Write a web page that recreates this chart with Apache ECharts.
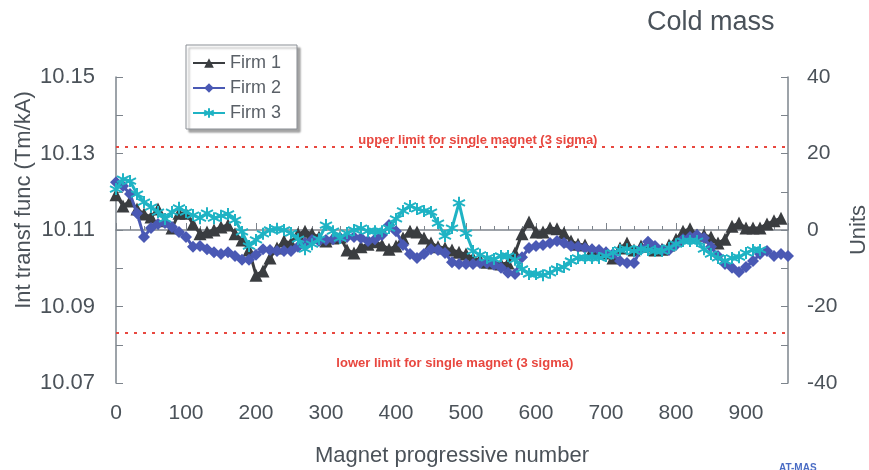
<!DOCTYPE html>
<html>
<head>
<meta charset="utf-8">
<script src="https://cdn.jsdelivr.net/npm/echarts@6/dist/echarts.min.js"></script>
<style>
  html, body { margin: 0; padding: 0; background: #ffffff; }
  #chart { width: 869px; height: 470px; }
</style>
</head>
<body>
<div id="chart"></div>
<script>
// Magnet progressive number (every 10th magnet)
const MAGNET_NO = [0,10,20,30,40,50,60,70,80,90,100,110,120,130,140,150,160,170,180,190,
  200,210,220,230,240,250,260,270,280,290,300,310,320,330,340,350,360,370,380,390,
  400,410,420,430,440,450,460,470,480,490,500,510,520,530,540,550,560,570,580,590,
  600,610,620,630,640,650,660,670,680,690,700,710,720,730,740,750,760,770,780,790,
  800,810,820,830,840,850,860,870,880,890,900,910,920,930,940,950,960];

// Integrated transfer function, Tm/kA
const FIRM1 = [10.1192,10.1163,10.1176,10.1155,10.1142,10.1134,10.1155,10.1124,10.1105,10.1144,
  10.1144,10.1116,10.1090,10.1095,10.1100,10.1108,10.1113,10.1090,10.1074,10.1048,
  10.0982,10.0993,10.1027,10.1053,10.1071,10.1066,10.1090,10.1097,10.1090,10.1082,
  10.1071,10.1079,10.1082,10.1048,10.1040,10.1056,10.1063,10.1069,10.1061,10.1050,
  10.1058,10.1079,10.1097,10.1095,10.1079,10.1066,10.1056,10.1053,10.1048,10.1042,
  10.1037,10.1027,10.1022,10.1016,10.1014,10.1011,10.1014,10.1040,10.1090,10.1121,
  10.1095,10.1095,10.1105,10.1103,10.1092,10.1071,10.1063,10.1061,10.1048,10.1045,
  10.1040,10.1027,10.1053,10.1066,10.1048,10.1058,10.1058,10.1048,10.1050,10.1061,
  10.1076,10.1097,10.1103,10.1087,10.1087,10.1082,10.1066,10.1076,10.1110,10.1118,
  10.1105,10.1105,10.1105,10.1116,10.1124,10.1131];

const FIRM2 = [10.1225,10.1215,10.1194,10.1144,10.1082,10.1105,10.1116,10.1118,10.1108,10.1095,
  10.1082,10.1056,10.1058,10.1050,10.1042,10.1037,10.1042,10.1032,10.1022,10.1022,
  10.1035,10.1050,10.1048,10.1045,10.1045,10.1045,10.1056,10.1066,10.1074,10.1071,
  10.1074,10.1076,10.1079,10.1082,10.1082,10.1079,10.1071,10.1076,10.1087,10.1113,
  10.1097,10.1061,10.1037,10.1027,10.1037,10.1050,10.1048,10.1040,10.1016,10.1011,
  10.1011,10.1011,10.1014,10.1014,10.1009,10.1001,10.0988,10.0985,10.1029,10.1053,
  10.1058,10.1061,10.1066,10.1071,10.1066,10.1058,10.1056,10.1053,10.1050,10.1048,
  10.1042,10.1037,10.1019,10.1014,10.1014,10.1050,10.1069,10.1058,10.1048,10.1048,
  10.1061,10.1076,10.1082,10.1087,10.1079,10.1056,10.1032,10.1011,10.1001,10.0990,
  10.1003,10.1019,10.1037,10.1045,10.1032,10.1037,10.1032];

const FIRM3 = [10.1207,10.1233,10.1228,10.1194,10.1173,10.1160,10.1147,10.1129,10.1147,10.1158,
  10.1147,10.1139,10.1131,10.1144,10.1131,10.1137,10.1142,10.1126,10.1095,10.1058,
  10.1074,10.1090,10.1100,10.1103,10.1100,10.1092,10.1076,10.1050,10.1063,10.1076,
  10.1113,10.1097,10.1079,10.1092,10.1100,10.1105,10.1097,10.1097,10.1097,10.1105,
  10.1129,10.1150,10.1163,10.1155,10.1150,10.1147,10.1118,10.1084,10.1105,10.1171,
  10.1092,10.1045,10.1035,10.1027,10.1024,10.1032,10.1032,10.1022,10.0998,10.0985,
  10.0985,10.0982,10.0988,10.0998,10.1003,10.1019,10.1027,10.1027,10.1027,10.1027,
  10.1032,10.1040,10.1048,10.1050,10.1045,10.1050,10.1048,10.1045,10.1045,10.1053,
  10.1063,10.1071,10.1071,10.1071,10.1050,10.1037,10.1027,10.1019,10.1027,10.1029,
  10.1040,10.1048,10.1048];

// 3-sigma limits for a single magnet
const UPPER_LIMIT = 10.1317;
const LOWER_LIMIT = 10.0831;
const X_RANGE = [0, 960];
const UPPER_TEXT = 'upper limit for single magnet (3 sigma)';
const LOWER_TEXT = 'lower limit for single magnet (3 sigma)';
// where the limit captions sit: [magnet no, Tm/kA]
const UPPER_TEXT_AT = [517, 10.1335];
const LOWER_TEXT_AT = [484, 10.0752];

const SERIES_NAMES = ['Firm 1', 'Firm 2', 'Firm 3'];

const pairs = vals => vals.map((v, i) => [MAGNET_NO[i], v]);

const AXIS_GREY = '#7d848c';
const TEXT_GREY = '#4b5259';
const FONT = '"Liberation Sans", Arial, sans-serif';
const LIMIT_RED = '#e8473f';

// asterisk marker
const STAR = 'path://M0,-5L0,5M-4.33,-2.5L4.33,2.5M-4.33,2.5L4.33,-2.5';

const limitSeries = (level, caption, at) => ({
  name: caption,
  type: 'line',
  yAxisIndex: 0,
  data: X_RANGE.map(x => [x, level]),
  symbol: 'none',
  silent: true,
  lineStyle: { color: LIMIT_RED, type: [3, 6], width: 2 },
  z: 1,
  markPoint: {
    silent: true,
    symbol: 'circle',
    symbolSize: 0,
    label: {
      show: true, position: 'inside', color: LIMIT_RED,
      fontSize: 13, fontWeight: 'bold', fontFamily: FONT,
      formatter: p => p.name
    },
    data: [{ name: caption, coord: at }]
  }
});

const chart = echarts.init(document.getElementById('chart'), null, { renderer: 'canvas' });

chart.setOption({
  backgroundColor: '#ffffff',
  animation: false,
  textStyle: { fontFamily: FONT },
  grid: { left: 116, right: 81, top: 77, bottom: 87, containLabel: false, outerBoundsMode: 'none' },
  legend: {
    data: SERIES_NAMES,
    orient: 'vertical',
    left: 186,
    top: 45,
    itemWidth: 32,
    itemHeight: 12,
    itemGap: 7,
    padding: [9, 16, 7, 6],
    backgroundColor: '#ffffff',
    borderColor: '#8a8f95',
    borderWidth: 1,
    borderRadius: 0,
    shadowColor: 'rgba(0,0,0,0.35)',
    shadowBlur: 2,
    shadowOffsetX: 3,
    shadowOffsetY: 3,
    textStyle: { fontSize: 18, color: '#5a6067', fontFamily: FONT }
  },
  graphic: [
    {
      type: 'text', left: 647, top: 9,
      style: { text: 'Cold mass', fontSize: 27, fill: '#4a525a', fontFamily: FONT }
    },
    {
      type: 'text', x: 24, y: 200, rotation: Math.PI / 2,
      style: {
        text: 'Int transf func (Tm/kA)', fontSize: 22, fill: TEXT_GREY, fontFamily: FONT,
        align: 'center', verticalAlign: 'middle'
      }
    },
    {
      type: 'text', left: 779, top: 463,
      style: { text: 'AT-MAS', fontSize: 10, fontWeight: 'bold', fill: '#4a6cc4', fontFamily: FONT }
    }
  ],
  xAxis: {
    type: 'value',
    min: X_RANGE[0], max: X_RANGE[1], interval: 100,
    name: 'Magnet progressive number',
    nameLocation: 'middle',
    nameGap: 62,
    nameTextStyle: { fontSize: 22, color: TEXT_GREY, fontFamily: FONT },
    axisLine: { show: true, lineStyle: { color: AXIS_GREY, width: 1.5 } },
    axisTick: { show: true, inside: true, length: 7, lineStyle: { color: AXIS_GREY } },
    minorTick: { show: true, splitNumber: 5, length: 4, lineStyle: { color: AXIS_GREY } },
    splitLine: { show: false },
    minorSplitLine: { show: false },
    axisLabel: { fontSize: 21, color: TEXT_GREY, margin: 20, showMaxLabel: false, fontFamily: FONT }
  },
  yAxis: [
    {
      type: 'value',
      position: 'left',
      min: 10.07, max: 10.15, interval: 0.01,
      axisLine: { show: true, lineStyle: { color: AXIS_GREY, width: 1.5 } },
      axisTick: { show: true, inside: true, length: 7, lineStyle: { color: AXIS_GREY } },
      splitLine: { show: false },
      axisLabel: {
        fontSize: 22, color: TEXT_GREY, margin: 21, fontFamily: FONT,
        formatter: v => (Math.round(v * 100) % 2 === 1 ? v.toFixed(2) : '')
      }
    },
    {
      type: 'value',
      position: 'right',
      min: -40, max: 40, interval: 10,
      name: 'Units',
      nameLocation: 'middle',
      nameGap: 58,
      nameTextStyle: { fontSize: 22, color: TEXT_GREY, fontFamily: FONT },
      axisLine: { show: true, lineStyle: { color: AXIS_GREY, width: 1.5 } },
      axisTick: { show: true, inside: true, length: 7, lineStyle: { color: AXIS_GREY } },
      splitLine: { show: false },
      axisLabel: {
        fontSize: 21, color: TEXT_GREY, margin: 19, fontFamily: FONT,
        formatter: v => (Math.round(v) % 20 === 0 ? String(v) : '')
      }
    }
  ],
  series: [
    limitSeries(UPPER_LIMIT, UPPER_TEXT, UPPER_TEXT_AT),
    limitSeries(LOWER_LIMIT, LOWER_TEXT, LOWER_TEXT_AT),
    {
      name: 'Firm 1',
      type: 'line',
      yAxisIndex: 0,
      data: pairs(FIRM1),
      symbol: 'triangle',
      symbolSize: 13,
      lineStyle: { color: '#3a3d40', width: 3 },
      itemStyle: { color: '#3a3d40' },
      z: 2
    },
    {
      name: 'Firm 2',
      type: 'line',
      yAxisIndex: 0,
      data: pairs(FIRM2),
      symbol: 'diamond',
      symbolSize: 12,
      lineStyle: { color: '#4a59b4', width: 3 },
      itemStyle: { color: '#4a59b4' },
      z: 3
    },
    {
      name: 'Firm 3',
      type: 'line',
      yAxisIndex: 0,
      data: pairs(FIRM3),
      symbol: STAR,
      symbolSize: 12,
      lineStyle: { color: '#1fb3c4', width: 3 },
      itemStyle: { color: '#1fb3c4', borderColor: '#1fb3c4', borderWidth: 2 },
      z: 4
    }
  ]
});
</script>
</body>
</html>
